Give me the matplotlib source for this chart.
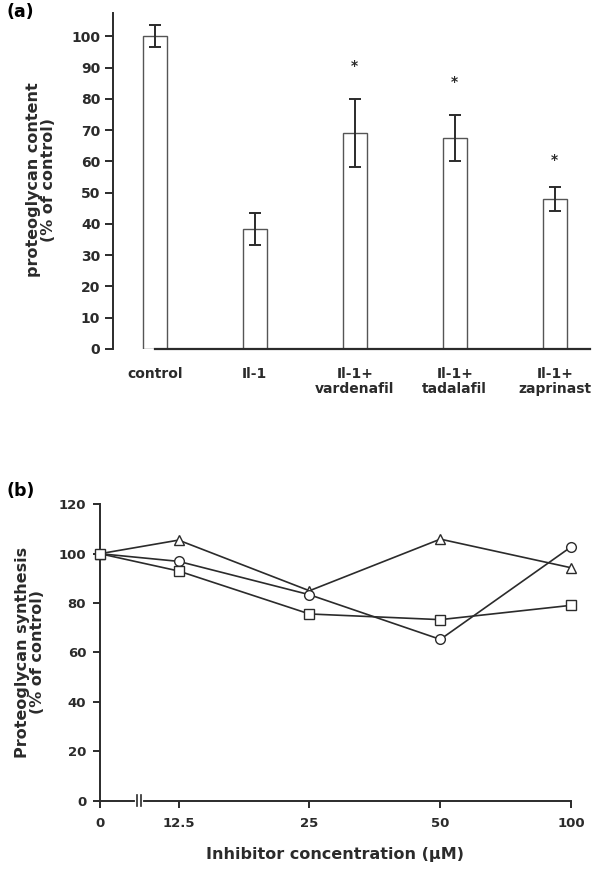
import numpy as np
import matplotlib
matplotlib.use('Agg')
import matplotlib.pyplot as plt

plt.rcParams['font.family'] = ['DejaVu Sans']
plt.rcParams['font.weight'] = 'bold'

# panel (a) data
groups = ['control', 'Il-1', 'Il-1+\nvardenafil', 'Il-1+\ntadalafil', 'Il-1+\nzaprinast']
content = [100, 38.3, 69.1, 67.5, 47.9]
content_err = [3.5, 5.1, 11.0, 7.4, 3.9]
star_y = [None, None, 90.4, 85.4, 60.6]

# panel (b) data
conc = [0, 12.5, 25, 50, 100]
conc_labels = ['0', '12.5', '25', '50', '100']
tri = [100, 105.5, 85.0, 105.9, 94.3]
circ = [100, 96.9, 83.4, 65.3, 102.8]
sq = [100, 93.0, 75.6, 73.3, 79.1]

ink = '#2b2b2b'
fig = plt.figure(figsize=(6, 8.76), dpi=100)

# ---- (a)
ax = fig.add_axes([0.188, 0.6016, 0.795, 0.3836])
xpos = np.arange(len(groups))
ax.bar(xpos, content, width=0.24, color='white', edgecolor='#555555', linewidth=1.0, zorder=2)
ax.errorbar(xpos, content, yerr=content_err, fmt='none', ecolor=ink, elinewidth=1.4,
            capsize=4, capthick=1.4, zorder=3)
for x, s in zip(xpos, star_y):
    if s is not None:
        ax.text(x, s, '*', ha='center', va='center', fontsize=10, color=ink)
ax.set_xlim(-0.42, 4.35)
ax.set_ylim(0, 107.5)
ax.set_yticks(np.arange(0, 101, 10))
ax.set_xticks(xpos)
ax.set_xticklabels(groups, fontsize=10, color=ink, linespacing=1.1)
ax.tick_params(axis='x', length=0, pad=13)
ax.tick_params(axis='y', direction='out', length=6, width=1.4, color=ink, labelsize=10,
               labelcolor=ink, pad=3)
for s in ['top', 'right']:
    ax.spines[s].set_visible(False)
ax.spines['left'].set_linewidth(1.4)
ax.spines['left'].set_color(ink)
ax.spines['bottom'].set_linewidth(1.6)
ax.spines['bottom'].set_color(ink)
ax.spines['bottom'].set_bounds(0, 4.35)
fig.text(41 / 600, 0.7945, 'proteoglycan content\n(% of control)', rotation=90, ha='center',
         va='center', fontsize=11.5, color=ink, multialignment='center', linespacing=1.0)
fig.text(7 / 600, 0.986, '(a)', ha='left', va='center', fontsize=12.5, color='black')


# ---- (b)
def fwd(x):
    x = np.asarray(x, dtype=float)
    return np.where(x <= 12.5, x / 12.5 * 0.6, 0.6 + np.log2(np.maximum(x, 1e-9) / 12.5))


def inv(p):
    p = np.asarray(p, dtype=float)
    return np.where(p <= 0.6, p / 0.6 * 12.5, 12.5 * 2 ** (p - 0.6))


bx = fig.add_axes([0.1667, 0.0860, 0.7853, 0.3383])
bx.set_xscale('function', functions=(fwd, inv))
mk = dict(color=ink, linewidth=1.2, markerfacecolor='white',
          markeredgecolor=ink, markeredgewidth=1.0, clip_on=False, zorder=3)
bx.plot(conc, tri, marker='^', markersize=7, **mk)
bx.plot(conc, circ, marker='o', markersize=7, **mk)
bx.plot(conc, sq, marker='s', markersize=6.5, **mk)
bx.set_xlim(0, 100)
bx.set_ylim(0, 120)
bx.set_yticks(np.arange(0, 121, 20))
bx.set_xticks(conc)
bx.set_xticklabels(conc_labels)
bx.tick_params(axis='both', direction='out', length=5, width=1.4, color=ink, labelsize=9.5,
               labelcolor=ink)
bx.tick_params(axis='x', pad=7)
bx.tick_params(axis='y', pad=5)
for s in ['top', 'right']:
    bx.spines[s].set_visible(False)
for s in ['left', 'bottom']:
    bx.spines[s].set_linewidth(1.4)
    bx.spines[s].set_color(ink)
# axis break marks
bx.plot([5.95, 6.55], [0, 0], color='white', linewidth=3, clip_on=False, zorder=4)
for bxv in [5.9, 6.6]:
    bx.plot([bxv, bxv], [-2.3, 2.3], color=ink, linewidth=1.2, clip_on=False, zorder=5)
fig.text(30 / 600, 0.2557, 'Proteoglycan synthesis\n(% of control)', rotation=90, ha='center',
         va='center', fontsize=11.5, color=ink, multialignment='center', linespacing=1.0)
fig.text(335 / 600, 0.024, 'Inhibitor concentration (\u00b5M)', ha='center', va='center',
         fontsize=11.5, color=ink)
fig.text(7 / 600, 0.4395, '(b)', ha='left', va='center', fontsize=12.5, color='black')

fig.savefig('out.png', dpi=100)
